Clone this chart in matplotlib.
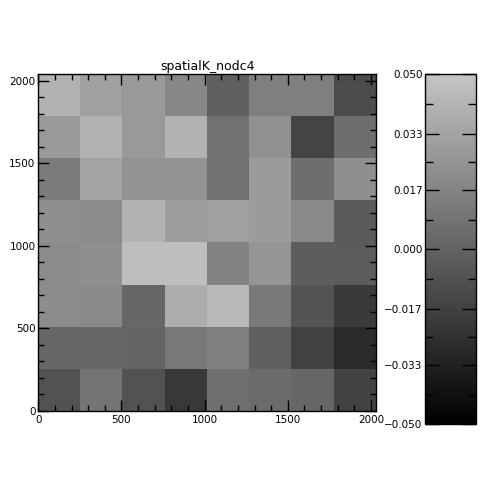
import numpy as np
import matplotlib
matplotlib.use("Agg")
import matplotlib.pyplot as plt
from matplotlib.colors import LinearSegmentedColormap
from matplotlib.ticker import MultipleLocator, FixedLocator

title = "spatialK_nodc4"
# rows listed from top (high y) to bottom (low y), 8 columns left->right
row_7 = [0.041, 0.032, 0.028, 0.019, -0.001, 0.015, 0.015, -0.011]
row_6 = [0.028, 0.041, 0.028, 0.041, 0.008, 0.024, -0.015, 0.006]
row_5 = [0.013, 0.033, 0.025, 0.025, 0.008, 0.029, 0.006, 0.023]
row_4 = [0.023, 0.021, 0.041, 0.030, 0.032, 0.029, 0.020, -0.004]
row_3 = [0.021, 0.023, 0.047, 0.047, 0.017, 0.026, -0.002, -0.003]
row_2 = [0.022, 0.020, 0.003, 0.038, 0.044, 0.012, -0.007, -0.020]
row_1 = [0.003, 0.003, 0.001, 0.011, 0.015, -0.001, -0.016, -0.028]
row_0 = [-0.008, 0.009, -0.008, -0.021, 0.007, 0.005, 0.002, -0.016]
vmin, vmax = -0.050, 0.050
cbar_ticks = [-0.050, -0.033, -0.017, 0.000, 0.017, 0.033, 0.050]
axis_ticks = [0, 500, 1000, 1500, 2000]

data = np.array([row_7, row_6, row_5, row_4, row_3, row_2, row_1, row_0])

plt.rcParams['font.family'] = ['DejaVu Sans']
fig = plt.figure(figsize=(5, 5), dpi=100)
fig.patch.set_facecolor('white')

cmap = LinearSegmentedColormap.from_list('g', [(0, 0, 0), (0.77, 0.77, 0.77)])

xmax, ymax = 2030, 2040
ax = fig.add_axes([0.0766, 0.178, 0.6754, 0.6734])
im = ax.imshow(data, cmap=cmap, vmin=vmin, vmax=vmax, origin='upper',
               extent=[0, xmax, 0, ymax], aspect='auto', interpolation='nearest')
ax.set_xlim(0, xmax)
ax.set_ylim(0, ymax)
ax.set_xticks(axis_ticks)
ax.set_yticks(axis_ticks)
ax.xaxis.set_minor_locator(MultipleLocator(100))
ax.yaxis.set_minor_locator(MultipleLocator(100))
ax.tick_params(which='both', direction='in', top=True, right=True, width=1, color='black')
ax.tick_params(which='major', length=8, labelsize=7.5)
ax.tick_params(which='minor', length=4)
ax.tick_params(axis='x', which='major', pad=3)
ax.tick_params(axis='y', which='major', pad=2)
for s in ax.spines.values():
    s.set_linewidth(1)
ax.set_title(title, fontsize=9, pad=3)

cax = fig.add_axes([0.8506, 0.1514, 0.1008, 0.70])
cb = fig.colorbar(im, cax=cax)
cb.set_ticks(cbar_ticks)
cb.set_ticklabels([("%.3f" % t).replace("-", "\u2212") for t in cbar_ticks])
mids = [(a + b) / 2 for a, b in zip(cbar_ticks[:-1], cbar_ticks[1:])]
cax.yaxis.set_minor_locator(FixedLocator(mids))
cax.yaxis.set_ticks_position('both')
cax.yaxis.set_label_position('left')
cax.tick_params(which='both', direction='in', left=True, right=True,
                labelleft=True, labelright=False, width=1, color='black')
cax.tick_params(which='major', length=10, labelsize=7.5, pad=2)
cax.tick_params(which='minor', length=6)
cb.outline.set_linewidth(1)

fig.savefig("out.png", dpi=100)
